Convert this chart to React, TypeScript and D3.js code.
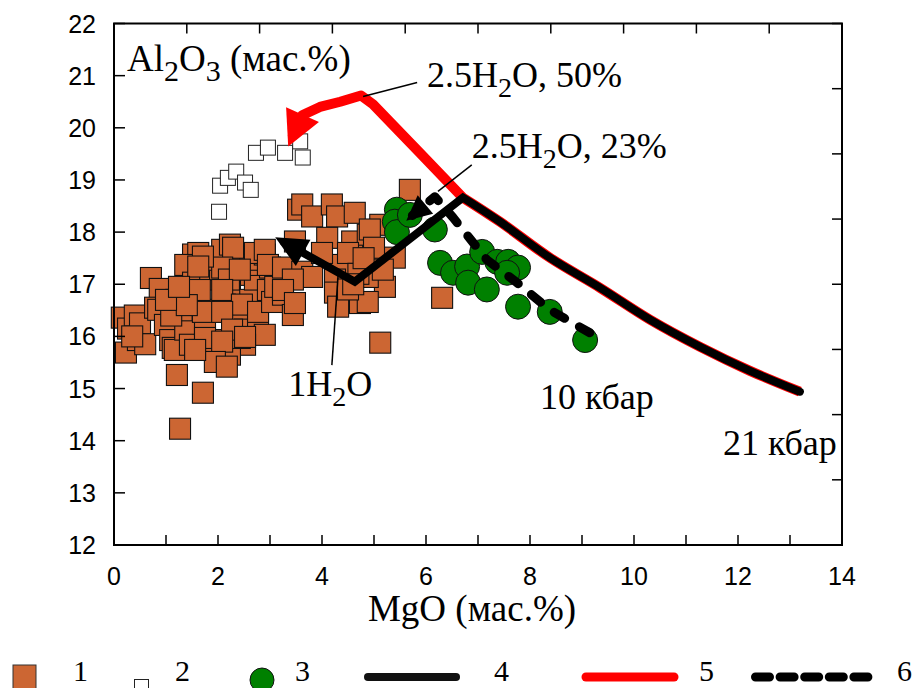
import React from 'react';
import * as d3 from 'd3';

const W = 913;
const H = 688;

const xDomain: [number, number] = [0, 14];
const yDomain: [number, number] = [12, 22];
const xLabelTicks = [0, 2, 4, 6, 8, 10, 12, 14];
const xMinorTicks = d3.range(0, 14.001, 1);
const yLabelTicks = [12, 13, 14, 15, 16, 17, 18, 19, 20, 21, 22];
const topTicks = d3.range(0, 14.001, 1.4);
const rightTicks = d3.range(12, 22.001, 1.25);

// 1: orange squares
const series1: [number, number][] = [
  [0.15, 16.36], [0.23, 15.69], [0.27, 16.15], [0.46, 15.93], [0.40, 16.40], [0.50, 16.25], [0.60, 15.85], [0.35, 16.00],
  [0.71, 17.12], [0.88, 16.91], [0.79, 16.55], [0.85, 16.51], [0.98, 16.22], [1.08, 15.93], [1.13, 15.78], [1.17, 15.74],
  [1.21, 15.26], [1.27, 14.23], [1.71, 14.92], [1.52, 17.57], [1.62, 17.60], [1.37, 17.37], [1.52, 17.03], [1.62, 16.80],
  [1.37, 16.13], [1.46, 15.84], [1.65, 15.74], [1.75, 16.22], [1.88, 16.51], [1.85, 17.09], [2.04, 17.28], [1.94, 17.47],
  [2.08, 17.66], [2.23, 17.76], [2.38, 17.53], [2.33, 17.18], [2.23, 16.89], [2.13, 16.61], [2.42, 16.41], [2.52, 16.13],
  [2.62, 16.70], [2.71, 17.09], [2.62, 17.37], [2.81, 17.47], [2.90, 17.57], [3.00, 17.32], [2.96, 16.89], [2.77, 16.32],
  [2.90, 16.03], [2.52, 15.84], [2.13, 15.93], [1.94, 15.78], [2.23, 15.65], [2.42, 15.97], [2.29, 17.70], [2.71, 17.60],
  [2.90, 17.66], [2.96, 17.37], [2.08, 17.32], [2.21, 17.09], [2.42, 17.28], [1.71, 17.53], [1.62, 17.34], [1.65, 16.89],
  [2.08, 16.89], [2.46, 16.61], [2.77, 16.47], [3.04, 16.66], [3.10, 16.95], [3.25, 16.80], [3.44, 16.41], [1.71, 16.47],
  [2.08, 16.47], [2.27, 16.13], [2.52, 15.99], [1.75, 15.97], [2.08, 15.90], [1.94, 15.51], [2.17, 15.42], [1.56, 15.74],
  [1.20, 16.70], [1.30, 16.50], [1.10, 16.40], [1.40, 16.60], [1.00, 16.70], [1.25, 16.95],
  [3.54, 18.43], [3.62, 18.53], [3.81, 18.30], [4.19, 18.53], [4.29, 18.30], [4.63, 18.37], [4.10, 17.89], [4.58, 17.82],
  [4.88, 17.95], [5.12, 18.14], [4.98, 17.43], [4.38, 17.37], [4.25, 17.09], [3.25, 17.32], [3.62, 17.24], [3.81, 17.14],
  [3.44, 17.09], [5.21, 16.95], [4.88, 17.14], [4.25, 16.84], [4.31, 16.57], [4.73, 16.64], [3.25, 16.89], [3.48, 16.64],
  [5.12, 15.88], [3.48, 17.82], [5.69, 18.81], [5.40, 17.51], [4.92, 18.05], [5.17, 17.28], [4.88, 16.66], [6.31, 16.74],
  [4.50, 17.60], [4.70, 17.20], [4.50, 16.90], [4.60, 17.00], [4.00, 17.60], [5.00, 17.70], [4.80, 17.50],
];

// 2: open squares
const series2: [number, number][] = [
  [2.04, 18.89], [2.19, 19.04], [2.35, 19.16], [2.52, 18.95], [2.63, 18.81], [2.02, 18.39],
  [2.73, 19.52], [2.96, 19.62], [3.29, 19.52], [3.63, 19.43], [3.58, 19.74],
];

// 3: green circles
const series3: [number, number][] = [
  [5.44, 18.43], [5.40, 18.20], [5.44, 18.00], [5.69, 18.33], [6.17, 18.05], [6.27, 17.41],
  [6.52, 17.22], [6.79, 17.34], [6.81, 17.03], [7.17, 16.90], [7.08, 17.62], [7.37, 17.43],
  [7.58, 17.43], [7.77, 17.32], [7.56, 17.22], [7.77, 16.57], [8.38, 16.47], [9.06, 15.93],
];

// shared melting trend (13.2 -> 6.7 MgO)
const trend: [number, number][] = [
  [13.19, 14.94], [12.23, 15.34], [11.27, 15.80], [10.31, 16.32], [9.35, 16.93], [8.38, 17.51], [7.42, 18.20], [6.71, 18.66],
];
// 4: black line (after the trend)
const line4Tail: [number, number][] = [[4.63, 17.05], [3.10, 17.90]];
// 5: red line (after the trend)
const line5Tail: [number, number][] = [
  [5.88, 19.52], [4.98, 20.45], [4.75, 20.62], [4.35, 20.50], [3.96, 20.40], [3.62, 20.24], [3.35, 19.64],
];
// 6: dashed line
const line6: [number, number][] = [
  [9.15, 16.07], [8.38, 16.51], [7.75, 17.03], [7.17, 17.47], [6.52, 18.28], [6.17, 18.68], [5.62, 18.22],
];

const leaders: [number, number, number, number][] = [
  [5.83, 20.87, 4.79, 20.60],
  [6.88, 19.29, 6.23, 18.78],
  [4.19, 15.45, 4.31, 17.18],
];

const legendLabels = ['1', '2', '3', '4', '5', '6'];

const SERIF = '"Liberation Serif", "Times New Roman", serif';
const SANS = '"Liberation Sans", Arial, sans-serif';
const ORANGE = '#CC6633';
const GREEN = '#008000';

function shorten(pts: [number, number][], by: number): [number, number][] {
  const out = pts.slice();
  const a = out[out.length - 2];
  const b = out[out.length - 1];
  const dx = b[0] - a[0];
  const dy = b[1] - a[1];
  const len = Math.hypot(dx, dy);
  out[out.length - 1] = [b[0] - (dx / len) * by, b[1] - (dy / len) * by];
  return out;
}

function Sub({ x, y, pre, sub, post, size }: { x: number; y: number; pre: string; sub: string; post: string; size: number }) {
  return (
    <text x={x} y={y} fontFamily={SERIF} fontSize={size} fill="#000">
      {pre}
      <tspan fontSize={size * 0.78} dy={size * 0.28}>{sub}</tspan>
      <tspan dy={-size * 0.28}>{post}</tspan>
    </text>
  );
}

export default function App() {
  const x = d3.scaleLinear().domain(xDomain).range([114, 842]);
  const y = d3.scaleLinear().domain(yDomain).range([545, 23.5]);
  const px = (p: [number, number]): [number, number] => [x(p[0]), y(p[1])];
  const smooth = d3.line<[number, number]>().x((d) => d[0]).y((d) => d[1]).curve(d3.curveCatmullRom.alpha(0.5));
  const straight = d3.line<[number, number]>().x((d) => d[0]).y((d) => d[1]);

  const trendPx = trend.map(px);
  const corner = trendPx[trendPx.length - 1];
  const blackTail = shorten([corner, ...line4Tail.map(px)], 10).slice(1);
  const blackD = (smooth(trendPx) || '') + blackTail.map((p) => `L${p[0]},${p[1]}`).join('');
  const redTail = shorten([corner, ...line5Tail.map(px)], 10).slice(1);
  const redD = (smooth(trendPx) || '') + redTail.map((p) => `L${p[0]},${p[1]}`).join('');
  const dashPx = shorten(line6.map(px), 8);

  const sq1 = 21;
  const sq2 = 15;

  return (
    <svg width={W} height={H} style={{ position: 'absolute', left: 0, top: 0, background: '#fff' }}>
      <defs>
        <marker id="arRed" markerUnits="userSpaceOnUse" viewBox="-30 -20 45 40" refX={0} refY={0}
          markerWidth={45} markerHeight={40} orient="auto">
          <path d="M10,0 L-25,-18 L-25,18 Z" fill="#ff0000" />
        </marker>
        <marker id="arBlack" markerUnits="userSpaceOnUse" viewBox="-30 -20 45 40" refX={0} refY={0}
          markerWidth={45} markerHeight={40} orient="auto">
          <path d="M10,0 L-22,-15 L-22,15 Z" fill="#000" />
        </marker>
        <marker id="arDash" markerUnits="userSpaceOnUse" viewBox="-30 -20 45 40" refX={0} refY={0}
          markerWidth={45} markerHeight={40} orient="auto">
          <path d="M8,0 L-17,-12 L-17,12 Z" fill="#000" />
        </marker>
      </defs>

      {/* series 1 */}
      {series1.map((d, i) => (
        <rect key={'a' + i} x={x(d[0]) - sq1 / 2} y={y(d[1]) - sq1 / 2} width={sq1} height={sq1}
          fill={ORANGE} stroke="#111" strokeWidth={1.1} />
      ))}
      {/* series 2 */}
      {series2.map((d, i) => (
        <rect key={'b' + i} x={x(d[0]) - sq2 / 2} y={y(d[1]) - sq2 / 2} width={sq2} height={sq2}
          fill="#fff" stroke="#222" strokeWidth={1} />
      ))}
      {/* series 3 */}
      {series3.map((d, i) => (
        <circle key={'c' + i} cx={x(d[0])} cy={y(d[1])} r={12.5} fill={GREEN} stroke="#111" strokeWidth={1} />
      ))}

      {/* lines */}
      <path d={redD} fill="none" stroke="#ff0000" strokeWidth={10} strokeLinejoin="round"
        markerEnd="url(#arRed)" />
      <path d={blackD} fill="none" stroke="#000" strokeWidth={8} strokeLinejoin="miter"
        strokeLinecap="round" markerEnd="url(#arBlack)" />
      <path d={straight(dashPx) || ''} fill="none" stroke="#000" strokeWidth={9} strokeDasharray="12 17"
        strokeLinecap="round" strokeLinejoin="round" markerEnd="url(#arDash)" />

      {/* leaders */}
      {leaders.map((l, i) => (
        <line key={'l' + i} x1={x(l[0])} y1={y(l[1])} x2={x(l[2])} y2={y(l[3])} stroke="#000" strokeWidth={1.5} />
      ))}

      {/* frame */}
      <rect x={114} y={23.5} width={728} height={521.5} fill="none" stroke="#000" strokeWidth={2} />
      {xMinorTicks.map((t) => (
        <line key={'xb' + t} x1={x(t)} x2={x(t)} y1={545} y2={535} stroke="#000" strokeWidth={1.5} />
      ))}
      {topTicks.map((t) => (
        <line key={'xt' + t} x1={x(t)} x2={x(t)} y1={23.5} y2={33.5} stroke="#000" strokeWidth={1.5} />
      ))}
      {yLabelTicks.map((t) => (
        <line key={'yl' + t} x1={114} x2={125} y1={y(t)} y2={y(t)} stroke="#000" strokeWidth={1.5} />
      ))}
      {rightTicks.map((t) => (
        <line key={'yr' + t} x1={842} x2={832} y1={y(t)} y2={y(t)} stroke="#000" strokeWidth={1.5} />
      ))}
      {xLabelTicks.map((t) => (
        <text key={'xlab' + t} x={x(t)} y={585} textAnchor="middle" fontFamily={SANS} fontSize={25}>{t}</text>
      ))}
      {yLabelTicks.map((t) => (
        <text key={'ylab' + t} x={96} y={y(t) + 9} textAnchor="end" fontFamily={SANS} fontSize={25}>{t}</text>
      ))}

      {/* axis titles */}
      <text x={472} y={621} textAnchor="middle" fontFamily={SERIF} fontSize={37}>MgO (мас.%)</text>
      <text x={x(0.25)} y={y(21.08)} fontFamily={SERIF} fontSize={37}>
        Al<tspan fontSize={30} dy={10}>2</tspan><tspan dy={-10}>O</tspan><tspan fontSize={30} dy={10}>3</tspan>
        <tspan dy={-10}> (мас.%)</tspan>
      </text>

      {/* annotations */}
      <Sub x={x(6.02)} y={y(20.79)} pre="2.5H" sub="2" post="O, 50%" size={36} />
      <Sub x={x(6.88)} y={y(19.43)} pre="2.5H" sub="2" post="O, 23%" size={36} />
      <Sub x={x(3.35)} y={y(14.86)} pre="1H" sub="2" post="O" size={36} />
      <text x={x(8.19)} y={y(14.61)} fontFamily={SERIF} fontSize={36}>10 кбар</text>
      <text x={x(11.71)} y={y(13.73)} fontFamily={SERIF} fontSize={36}>21 кбар</text>

      {/* legend */}
      <rect x={13} y={665} width={23} height={26} fill={ORANGE} stroke="#333" strokeWidth={1} />
      <rect x={134.5} y={679.5} width={14} height={14} fill="#fff" stroke="#222" strokeWidth={1} />
      <circle cx={262} cy={680} r={12} fill={GREEN} stroke="#111" strokeWidth={1} />
      <line x1={368} x2={456} y1={677} y2={677} stroke="#111" strokeWidth={8} strokeLinecap="round" />
      <line x1={586} x2={674} y1={677} y2={677} stroke="#ff0000" strokeWidth={9} strokeLinecap="round" />
      <line x1={755.5} x2={869.5} y1={677} y2={677} stroke="#000" strokeWidth={9} strokeDasharray="14 10.6"
        strokeLinecap="round" />
      {legendLabels.map((lab, i) => (
        <text key={'lg' + i} x={[73, 175, 295, 494, 699, 897][i]} y={681} fontFamily={SERIF} fontSize={30}>{lab}</text>
      ))}
    </svg>
  );
}
